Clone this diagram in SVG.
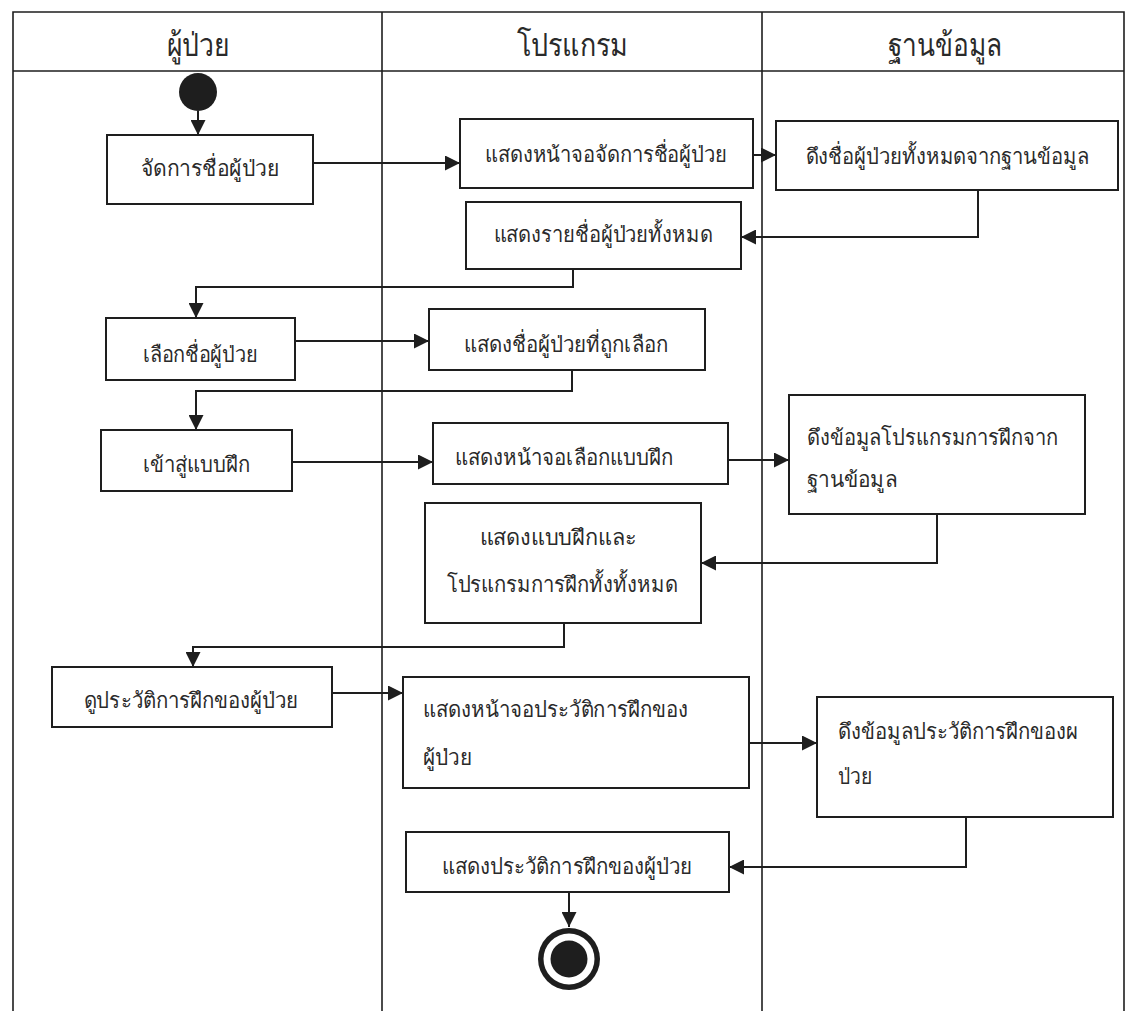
<svg xmlns="http://www.w3.org/2000/svg" width="1130" height="1011" viewBox="0 0 1130 1011">
  <style>
    .lane { fill: none; stroke: #1e1e1e; stroke-width: 1.6; }
    .box { fill: #ffffff; stroke: #1e1e1e; stroke-width: 2; }
    .edge { fill: none; stroke: #1e1e1e; stroke-width: 2; marker-end: url(#arrow); }
    .hdr { font-family: "Liberation Serif", "Noto Sans", serif; font-size: 32px; font-weight: normal; fill: #2a2a2a; text-anchor: middle; }
    .lbl { font-family: "Liberation Serif", "Noto Sans", serif; font-size: 22px; fill: #2a2a2a; }
    .mid { text-anchor: middle; }
  </style>
  <defs>
    <marker id="arrow" viewBox="0 0 15 15" refX="15" refY="7.5" markerWidth="15" markerHeight="15" markerUnits="userSpaceOnUse" orient="auto">
      <path d="M0,0 L15,7.5 L0,15 z" fill="#1e1e1e"/>
    </marker>
  </defs>
  <rect x="0" y="0" width="1130" height="1011" fill="#ffffff"/>

  <!-- swimlane frame -->
  <g id="swimlanes">
    <path class="lane" d="M13,1011 V12 H1124 V1011"/>
    <path class="lane" d="M13,71 H1124"/>
    <path class="lane" d="M382,12 V1011"/>
    <path class="lane" d="M762,12 V1011"/>
    <text class="hdr" x="198" y="56" textLength="63" lengthAdjust="spacingAndGlyphs">ผู้ป่วย</text>
    <text class="hdr" x="572" y="56" textLength="111" lengthAdjust="spacingAndGlyphs">โปรแกรม</text>
    <text class="hdr" x="945" y="56" textLength="115" lengthAdjust="spacingAndGlyphs">ฐานข้อมูล</text>
  </g>

  <!-- connectors -->
  <g id="connectors">
    <path class="edge" d="M198,111 V135"/>
    <path class="edge" d="M313,163 H460"/>
    <path class="edge" d="M753,155 H776"/>
    <path class="edge" d="M978,190 V237 H741"/>
    <path class="edge" d="M573,269 V287 H196 V318"/>
    <path class="edge" d="M295,341 H429"/>
    <path class="edge" d="M572,370 V391 H196 V430"/>
    <path class="edge" d="M292,462 H433"/>
    <path class="edge" d="M728,460 H789"/>
    <path class="edge" d="M937,514 V563 H701"/>
    <path class="edge" d="M564,623 V647 H193 V667"/>
    <path class="edge" d="M332,693 H403"/>
    <path class="edge" d="M749,743 H817"/>
    <path class="edge" d="M966,817 V867 H729"/>
    <path class="edge" d="M569,892 V927"/>
  </g>

  <!-- nodes -->
  <g id="start">
    <circle cx="198" cy="92" r="19" fill="#1e1e1e"/>
  </g>
  <g id="manage-names">
    <rect class="box" x="107" y="135" width="206" height="69"/>
    <text class="lbl mid" x="210" y="176" textLength="138" lengthAdjust="spacingAndGlyphs">จัดการชื่อผู้ป่วย</text>
  </g>
  <g id="show-manage-screen">
    <rect class="box" x="460" y="119" width="293" height="69"/>
    <text class="lbl mid" x="606" y="162" textLength="242" lengthAdjust="spacingAndGlyphs">แสดงหน้าจอจัดการชื่อผู้ป่วย</text>
  </g>
  <g id="fetch-all-names">
    <rect class="box" x="776" y="121" width="342" height="69"/>
    <text class="lbl mid" x="947" y="164" textLength="283" lengthAdjust="spacingAndGlyphs">ดึงชื่อผู้ป่วยทั้งหมดจากฐานข้อมูล</text>
  </g>
  <g id="show-name-list">
    <rect class="box" x="466" y="202" width="275" height="67"/>
    <text class="lbl mid" x="603" y="242" textLength="219" lengthAdjust="spacingAndGlyphs">แสดงรายชื่อผู้ป่วยทั้งหมด</text>
  </g>
  <g id="select-name">
    <rect class="box" x="106" y="318" width="189" height="62"/>
    <text class="lbl mid" x="200" y="362" textLength="115" lengthAdjust="spacingAndGlyphs">เลือกชื่อผู้ป่วย</text>
  </g>
  <g id="show-selected">
    <rect class="box" x="429" y="309" width="276" height="61"/>
    <text class="lbl mid" x="566" y="352" textLength="204" lengthAdjust="spacingAndGlyphs">แสดงชื่อผู้ป่วยที่ถูกเลือก</text>
  </g>
  <g id="enter-exercise">
    <rect class="box" x="101" y="430" width="191" height="61"/>
    <text class="lbl mid" x="196" y="472" textLength="107" lengthAdjust="spacingAndGlyphs">เข้าสู่แบบฝึก</text>
  </g>
  <g id="show-exercise-screen">
    <rect class="box" x="433" y="423" width="295" height="61"/>
    <text class="lbl mid" x="564" y="465" textLength="218" lengthAdjust="spacingAndGlyphs">แสดงหน้าจอเลือกแบบฝึก</text>
  </g>
  <g id="fetch-programs">
    <rect class="box" x="789" y="395" width="296" height="119"/>
    <text class="lbl" x="807" y="445" textLength="251" lengthAdjust="spacingAndGlyphs">ดึงข้อมูลโปรแกรมการฝึกจาก</text>
    <text class="lbl" x="807" y="487" textLength="90" lengthAdjust="spacingAndGlyphs">ฐานข้อมูล</text>
  </g>
  <g id="show-programs">
    <rect class="box" x="425" y="503" width="276" height="120"/>
    <text class="lbl mid" x="558" y="545" textLength="157" lengthAdjust="spacingAndGlyphs">แสดงแบบฝึกและ</text>
    <text class="lbl mid" x="562" y="592" textLength="231" lengthAdjust="spacingAndGlyphs">โปรแกรมการฝึกทั้งทั้งหมด</text>
  </g>
  <g id="view-history">
    <rect class="box" x="52" y="667" width="280" height="60"/>
    <text class="lbl mid" x="191" y="708" textLength="215" lengthAdjust="spacingAndGlyphs">ดูประวัติการฝึกของผู้ป่วย</text>
  </g>
  <g id="show-history-screen">
    <rect class="box" x="403" y="677" width="346" height="111"/>
    <text class="lbl" x="423" y="717" textLength="265" lengthAdjust="spacingAndGlyphs">แสดงหน้าจอประวัติการฝึกของ</text>
    <text class="lbl" x="423" y="765" textLength="49" lengthAdjust="spacingAndGlyphs">ผู้ป่วย</text>
  </g>
  <g id="fetch-history">
    <rect class="box" x="817" y="697" width="296" height="120"/>
    <text class="lbl" x="838" y="739" textLength="240" lengthAdjust="spacingAndGlyphs">ดึงข้อมูลประวัติการฝึกของผ</text>
    <text class="lbl" x="838" y="784" textLength="34" lengthAdjust="spacingAndGlyphs">ป่วย</text>
  </g>
  <g id="show-history">
    <rect class="box" x="406" y="832" width="323" height="60"/>
    <text class="lbl mid" x="567" y="874" textLength="251" lengthAdjust="spacingAndGlyphs">แสดงประวัติการฝึกของผู้ป่วย</text>
  </g>
  <g id="end">
    <circle cx="569" cy="959" r="31" fill="#1e1e1e"/>
    <circle cx="569" cy="959" r="25.5" fill="#ffffff"/>
    <circle cx="569" cy="959" r="18.5" fill="#1e1e1e"/>
  </g>
</svg>
